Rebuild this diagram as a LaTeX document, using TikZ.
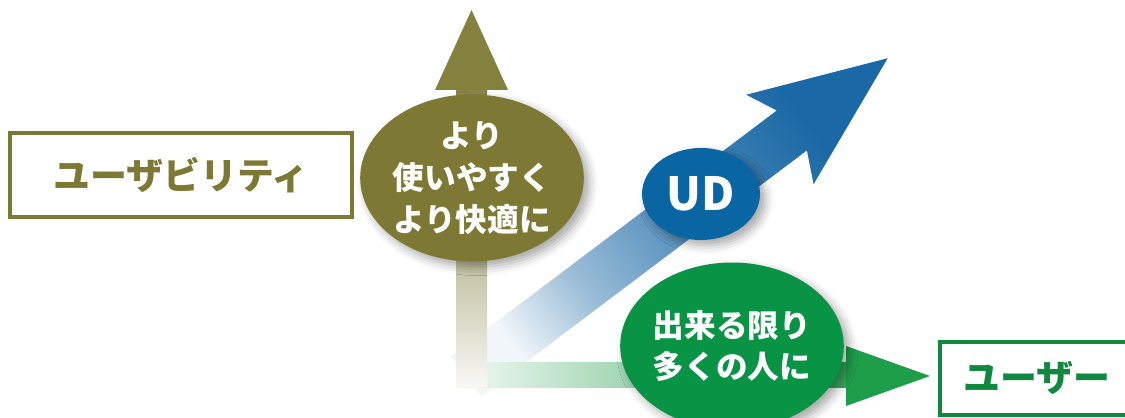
\documentclass[tikz,border=0pt]{standalone}
\usepackage{fontspec}
\setmainfont{Noto Sans CJK JP}
\usepackage{tikz}
\usetikzlibrary{shapes.geometric,shadows.blur}

\definecolor{olivec}{RGB}{125,121,52}
\definecolor{udblue}{RGB}{10,101,163}
\definecolor{bluearrow}{RGB}{26,104,165}
\definecolor{greenc}{RGB}{9,148,69}
\definecolor{greenarrow}{RGB}{31,158,74}
\definecolor{greenbox}{RGB}{16,136,64}
\colorlet{bandpale}{bluearrow!6}
\colorlet{bandmid}{bluearrow!45}
\colorlet{bandhigh}{bluearrow!72}

% gradient along the diagonal band
\pgfdeclarehorizontalshading{bandblue}{100bp}{
  color(0bp)=(bandpale); color(25bp)=(bandpale); color(37bp)=(bandmid);
  color(50bp)=(bandhigh); color(72bp)=(bluearrow); color(100bp)=(bluearrow)}

\tikzset{
  bubble/.style={ellipse, inner sep=0pt, text=white, align=center,
    minimum width=4.02cm, minimum height=3.34cm,
    font=\fontsize{18}{24}\selectfont\bfseries,
    blur shadow={shadow xshift=3pt, shadow yshift=-3pt, shadow blur radius=5pt, shadow opacity=35}},
  axisbox/.style={rectangle, draw, line width=2.3pt, fill=white, inner sep=0pt,
    font=\fontsize{21}{21}\selectfont\bfseries}
}

\begin{document}
\begin{tikzpicture}[x=0.02cm, y=0.02cm]
    \useasboundingbox (0,0) rectangle (1125,418);
    \clip (0,0) rectangle (1125,418);

    % diagonal arrow
    \begin{scope}[shift={(466,42)}, rotate=37]
      \shade[shading=bandblue, shading angle=37]
        (0,-25) -- (408,-25) -- (393,-56) -- (528,0) -- (393,56) -- (408,25) -- (0,25) -- cycle;
    \end{scope}

    % horizontal arrow
    \shade[left color=greenarrow!5, right color=greenarrow!90] (456,30) rectangle (848,55);
    \fill[greenarrow] (846,72) -- (930,42) -- (846,12) -- cycle;

    % vertical arrow
    \shade[bottom color=olivec!5, top color=olivec!90, middle color=olivec!55] (456,31) rectangle (487,330);
    \fill[olivec!95] (435,328) -- (471.5,408) -- (508,328) -- cycle;

    % bubbles
    \node[bubble, fill=olivec] (better) at (472,240) {より\\使いやすく\\より快適に};
    \node[bubble, fill=udblue, minimum width=2.36cm, minimum height=1.84cm,
      font=\fontsize{26}{26}\selectfont\bfseries] (ud) at (701,224) {UD};
    \node[bubble, fill=greenc, font=\fontsize{18}{23}\selectfont\bfseries] (many) at (732,72) {出来る限り\\多くの人に};

    % axis labels
    \node[axisbox, draw=olivec, text=olivec, minimum width=6.84cm, minimum height=1.68cm] (usability) at (181,243) {ユーザビリティ};
    \node[axisbox, draw=greenbox, text=greenbox, minimum width=3.88cm, minimum height=1.46cm] (user) at (1037,39.5) {ユーザー};
\end{tikzpicture}
\end{document}
